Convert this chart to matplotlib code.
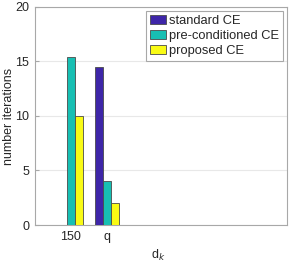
import matplotlib
matplotlib.use("Agg")
import matplotlib.pyplot as plt
import numpy as np

categories = ["150", "q"]
series_names = ["standard CE", "pre-conditioned CE", "proposed CE"]
standard_ce = [0.0, 14.5]
preconditioned_ce = [15.4, 4.0]
proposed_ce = [10.0, 2.0]
colors = ["#3e26a8", "#17bfb3", "#f9fb15"]

plt.rcParams['font.family'] = ['Liberation Sans', 'DejaVu Sans']

fig = plt.figure(figsize=(2.89, 2.66), dpi=100)
ax = fig.add_axes([0.121, 0.154, 0.872, 0.821])

x = np.arange(1, len(categories) + 1)
w = 0.222
data = [standard_ce, preconditioned_ce, proposed_ce]
for i, (vals, name, c) in enumerate(zip(data, series_names, colors)):
    ax.bar(x + (i - 1) * w, vals, width=w, color=c, edgecolor="#4a4a4a",
           linewidth=0.6, label=name, zorder=3)

ax.set_xlim(0, 7)
ax.set_ylim(0, 20)
ax.set_yticks([0, 5, 10, 15, 20])
ax.set_xticks(x)
ax.set_xticklabels(categories)
ax.yaxis.grid(True, color="#e8e8e8", linewidth=0.8, zorder=0)
ax.set_axisbelow(True)
for s in ax.spines.values():
    s.set_color("#a8a8a8")
    s.set_linewidth(0.8)
ax.tick_params(direction="in", length=3, color="#a8a8a8", labelsize=9,
               labelcolor="#262626", pad=4)
ax.set_ylabel("number iterations", fontsize=9, color="#262626")
ax.yaxis.set_label_coords(-0.08, 0.495)
ax.set_xlabel("d$_k$", fontsize=9, color="#262626")
ax.xaxis.set_label_coords(0.49, -0.105)

leg = ax.legend(loc="upper right", bbox_to_anchor=(0.984, 0.98), borderaxespad=0,
                fancybox=False, edgecolor="#a8a8a8", fontsize=9.3,
                handlelength=1.3, handleheight=0.7, handletextpad=0.2,
                labelspacing=0.22, borderpad=0.3, framealpha=1)
leg.get_frame().set_linewidth(0.8)
for t in leg.get_texts():
    t.set_color("#262626")

fig.savefig("out.png", dpi=100)
